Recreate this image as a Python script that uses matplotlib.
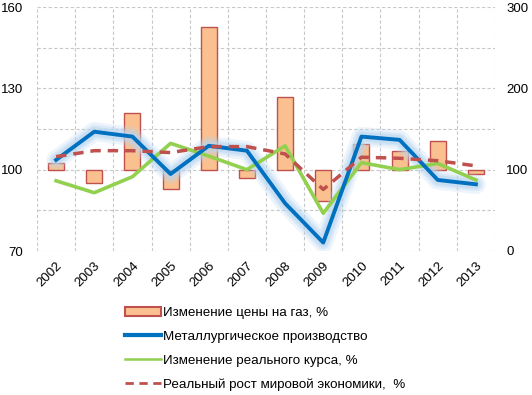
import numpy as np
import matplotlib.pyplot as plt
from matplotlib.patches import Patch
from matplotlib.lines import Line2D

plt.rcParams['font.family'] = ['Liberation Sans', 'DejaVu Sans']

years = ['2002', '2003', '2004', '2005', '2006', '2007',
         '2008', '2009', '2010', '2011', '2012', '2013']
gas_price = [102.3, 95.2, 120.8, 92.7, 152.5, 96.8,
             126.9, 88.6, 109.3, 107.0, 110.7, 98.5]
metallurgy = [103.6, 114.0, 112.2, 98.4, 108.8, 107.0,
              87.6, 73.1, 112.2, 111.0, 96.2, 94.6]
real_rate = [95.9, 91.5, 97.4, 109.7, 105.0, 100.0,
             108.8, 83.9, 102.6, 100.0, 102.3, 96.2]
world_growth = [104.8, 107.0, 107.0, 106.3, 108.5, 108.5,
                105.8, 92.7, 104.6, 104.2, 103.3, 101.4]

labels = ['Изменение цены на газ, %', 'Металлургическое производство',
          'Изменение реального курса, %', 'Реальный рост мировой экономики,  %']

fig = plt.figure(figsize=(5.32, 3.95), dpi=100)
ax = fig.add_axes([37 / 532, 1 - 251 / 395, 458 / 532, 244 / 395])

x = np.arange(len(years))

# dashed grid: horizontal every 15, vertical on category borders
for gy in np.arange(70, 161, 15):
    ax.axhline(gy, color='#c8c8c8', ls=(0, (3, 2)), lw=0.8, zorder=0)
for gx in np.arange(-0.5, len(years), 1):
    ax.axvline(gx, color='#c8c8c8', ls=(0, (3, 2)), lw=0.8, zorder=0)

heights = [v - 100 for v in gas_price]
ax.bar(x, heights, bottom=100, width=0.42, color='#fac090',
       edgecolor='#c0504d', linewidth=1.0, zorder=2)

# glow behind the metallurgy line
for lw, a in [(14, 0.25), (10, 0.35), (7, 0.5)]:
    ax.plot(x, metallurgy, color='#b8d6f0', lw=lw, alpha=a,
            solid_joinstyle='round', solid_capstyle='round', zorder=3)
ax.plot(x, metallurgy, color='#0070c0', lw=2.8, zorder=5)
ax.plot(x, real_rate, color='#92d050', lw=2.6, zorder=4)
ax.plot(x, world_growth, color='#c0504d', lw=2.5, ls=(0, (3, 2)), zorder=6)

ax.set_xlim(-0.5, len(years) - 0.5)
ax.set_ylim(70, 160)
ax.set_yticks([70, 100, 130, 160])
ax.set_xticks(x)
ax.set_xticklabels(years, rotation=45, ha='right', rotation_mode='anchor')
ax.tick_params(which='both', length=0, labelsize=9.5)
ax.tick_params(axis='x', pad=6)
ax.tick_params(axis='y', pad=10)
for s in ax.spines.values():
    s.set_visible(False)

ax2 = ax.twinx()
ax2.set_ylim(0, 300)
ax2.set_yticks([0, 100, 200, 300])
ax2.tick_params(length=0, labelsize=9.5, pad=8)
for s in ax2.spines.values():
    s.set_visible(False)

handles = [Patch(facecolor='#fac090', edgecolor='#c0504d', linewidth=1.5),
           Line2D([], [], color='#0070c0', lw=3),
           Line2D([], [], color='#92d050', lw=1.8),
           Line2D([], [], color='#c0504d', lw=2, ls=(0, (3, 2)))]
fig.legend(handles, labels, loc='upper left', bbox_to_anchor=(118 / 532, 1 - 300 / 395),
           frameon=False, fontsize=9.6, handlelength=2.75, handletextpad=0.1,
           labelspacing=0.86, borderpad=0)

fig.savefig('out.png', dpi=100)
